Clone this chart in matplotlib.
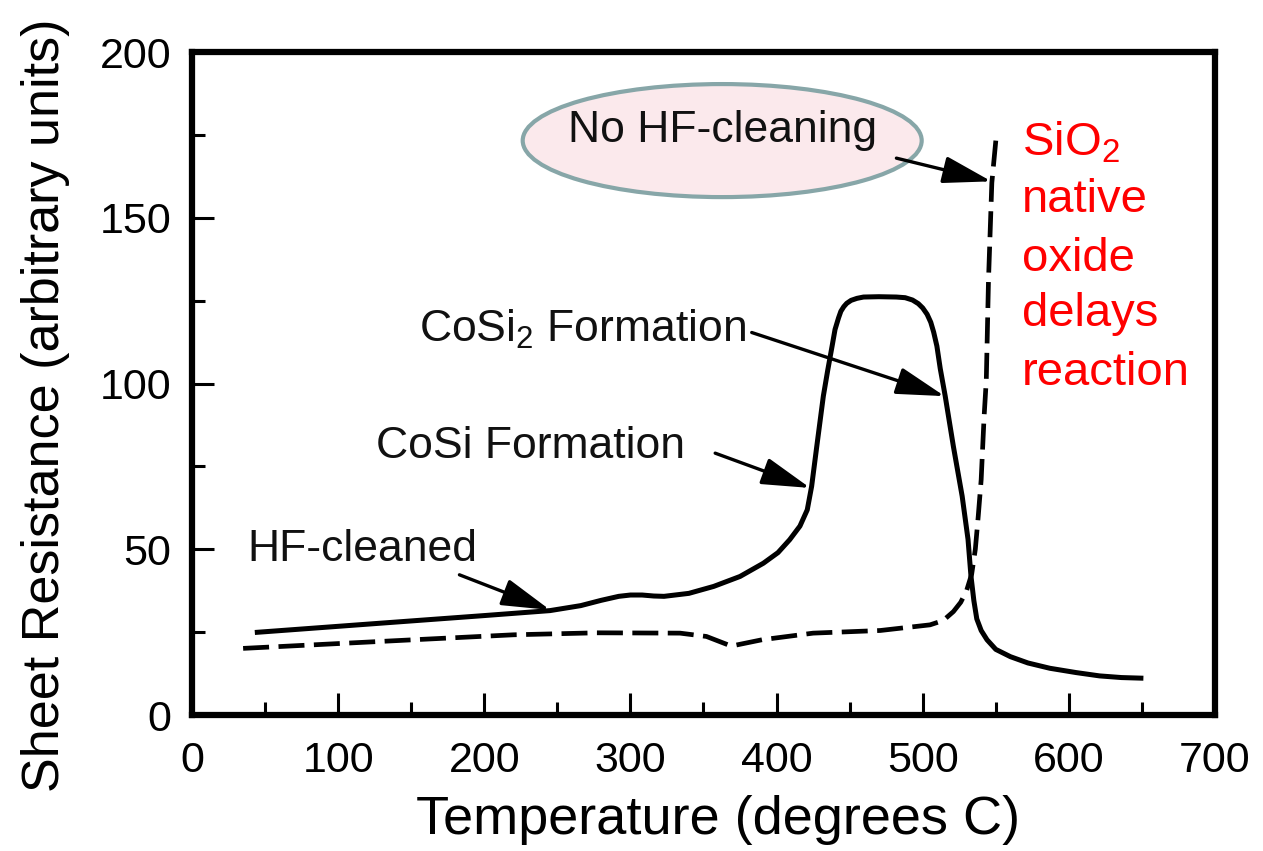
import matplotlib
matplotlib.use("Agg")
import matplotlib.pyplot as plt
from matplotlib.patches import Ellipse
from matplotlib.ticker import MultipleLocator

# HF-cleaned sample (solid)
hf_temp = [43, 129, 200, 245, 266, 280, 292, 300, 308, 316, 323, 340, 357, 375, 391, 401, 409, 416, 421,
           424, 427.5, 432, 435, 438, 440, 442.4, 444, 446, 448, 451, 455, 459.5, 470, 482, 488, 493, 497,
           500, 503, 505.5, 507.5, 509.7, 512, 515.4, 521, 527, 531, 533, 535, 537, 540, 544, 550, 560,
           572, 587, 605, 621, 636, 651]
hf_rs = [24.9, 27.7, 30.0, 31.5, 33.0, 34.6, 35.8, 36.2, 36.2, 35.9, 35.8, 36.7, 38.8, 41.8, 45.8, 49.0, 52.9, 57.0, 61.9,
         69.0, 81.0, 96.2, 104.0, 111.3, 116.3, 119.8, 121.8, 123.2, 124.2, 125.1, 125.7, 126.1, 126.2, 126.1, 125.9, 125.2, 124.1,
         122.8, 120.9, 118.5, 115.5, 111.3, 104.5, 96.2, 81.0, 66.0, 53.0, 42.0, 34.5, 29.0, 25.5, 22.7, 19.8, 17.6,
         15.7, 14.1, 12.8, 11.8, 11.3, 11.1]

# no HF-cleaning sample (dashed)
nohf_temp = [35, 151.5, 220, 277, 334, 352, 369, 390, 425, 471, 485, 505, 514, 521, 526, 530,
             533.5, 536, 538, 540, 542, 543.5, 545, 547.3, 550.5]
nohf_rs = [20.1, 22.7, 24.2, 24.8, 24.7, 23.7, 20.8, 22.7, 24.7, 25.5, 26.2, 27.2, 28.5, 31.2, 34.0, 37.5,
           42.5, 50.0, 60.0, 71.0, 90.0, 101.0, 131.0, 160.6, 175.5]

# annotations: (text, text position, arrow tail, arrow tip)
notes = [
    ("HF-cleaned", (38, 46.5), (183, 42.3), (245, 31.7)),
    ("CoSi Formation", (126, 77.5), (358, 79.0), (423, 68.5)),
    ("CoSi$_2$ Formation", (155, 112.7), (383, 115.4), (515, 96.2)),
    ("No HF-cleaning", (257, 172.8), (482, 168.0), (547, 161.0)),
]
red_lines = ["SiO$_2$", "native", "oxide", "delays", "reaction"]
red_base = [168.8, 151.7, 133.9, 117.3, 99.7]

plt.rcParams["font.family"] = ["Liberation Sans", "DejaVu Sans"]
plt.rcParams["mathtext.fontset"] = "custom"
plt.rcParams["mathtext.rm"] = "Liberation Sans"
plt.rcParams["mathtext.default"] = "regular"

fig = plt.figure(figsize=(12.63, 8.51), dpi=100)
ax = fig.add_axes([0.152, 0.1598, 0.810, 0.779])

ax.plot(hf_temp, hf_rs, color="black", lw=3.6, solid_capstyle="butt", solid_joinstyle="round")
ax.plot(nohf_temp, nohf_rs, color="black", lw=3.4, linestyle=(0, (5.5, 2.0)), dash_capstyle="butt")

ax.add_patch(Ellipse((362.8, 173.3), 273, 34.1, facecolor="#fbe9ec",
                     edgecolor="#87a6a8", lw=3.0, zorder=1))

for txt, pos, tail, tip in notes:
    ax.text(pos[0], pos[1], txt, fontsize=32, ha="left", va="baseline", color="#111111", zorder=3)
    ax.annotate("", xy=tip, xytext=tail,
                arrowprops=dict(arrowstyle="-|>,head_length=1.5,head_width=0.42",
                                mutation_scale=20, lw=2.4, color="black",
                                shrinkA=0, shrinkB=0), zorder=4)

for line, yb in zip(red_lines, red_base):
    ax.text(568, yb, line, fontsize=34, color="red", ha="left", va="baseline")

ax.set_xlim(0, 700)
ax.set_ylim(0, 200)
ax.xaxis.set_major_locator(MultipleLocator(100))
ax.xaxis.set_minor_locator(MultipleLocator(50))
ax.yaxis.set_major_locator(MultipleLocator(50))
ax.yaxis.set_minor_locator(MultipleLocator(25))
ax.tick_params(which="both", direction="in", width=2.2, top=False, right=False)
ax.tick_params(which="major", length=16)
ax.tick_params(which="minor", length=9.5)
ax.tick_params(axis="x", which="major", labelsize=31, pad=19)
ax.tick_params(axis="y", which="major", labelsize=31, pad=15)
for s in ax.spines.values():
    s.set_linewidth(4.5)

ax.set_xlabel("Temperature (degrees C)", fontsize=39)
ax.set_ylabel("Sheet Resistance (arbitrary units)", fontsize=37.5)
ax.xaxis.set_label_coords(0.514, -0.12)
ax.yaxis.set_label_coords(-0.119, 0.468)

fig.savefig("out.png", dpi=100)
